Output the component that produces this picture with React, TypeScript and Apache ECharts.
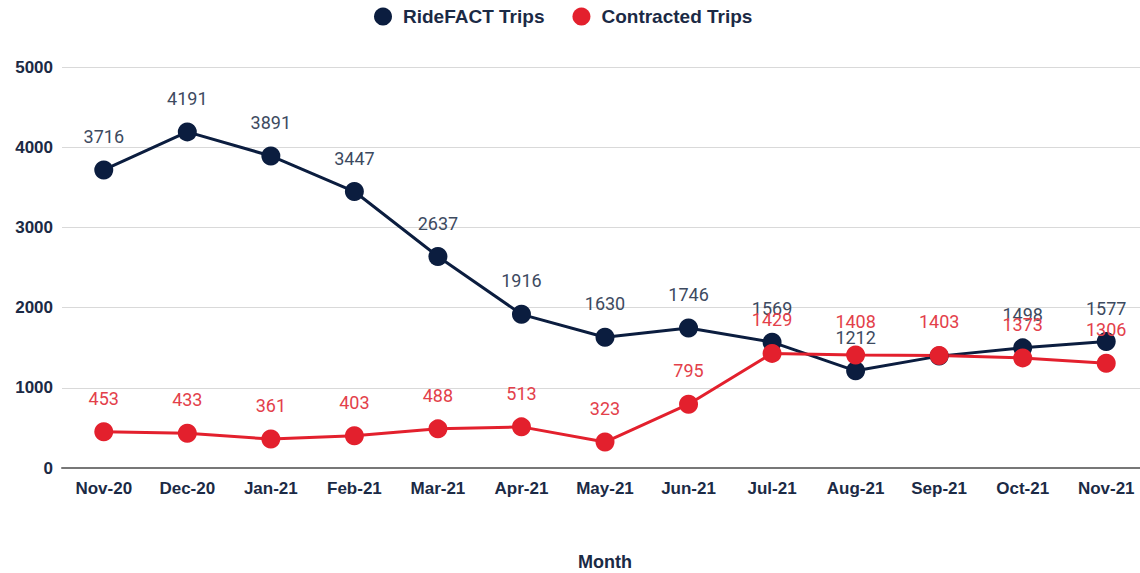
import React, { useEffect, useRef } from "react";
import * as echarts from "echarts";

const months = ["Nov-20", "Dec-20", "Jan-21", "Feb-21", "Mar-21", "Apr-21", "May-21", "Jun-21", "Jul-21", "Aug-21", "Sep-21", "Oct-21", "Nov-21"];
const rideFactTrips = [3716, 4191, 3891, 3447, 2637, 1916, 1630, 1746, 1569, 1212, 1395, 1498, 1577];
const contractedTrips = [453, 433, 361, 403, 488, 513, 323, 795, 1429, 1408, 1403, 1373, 1306];
const hiddenRideLabelIndex = 10;

const NAVY = "#0b1d3f";
const RED = "#e3202d";
const TEXT = "#1b2a45";

export default function App() {
  const ref = useRef<HTMLDivElement>(null);
  useEffect(() => {
    document.body.style.margin = "0";
    const chart = echarts.init(ref.current!, null, { renderer: "svg" });
    chart.setOption({
      animation: false,
      backgroundColor: "#ffffff",
      legend: {
        top: 2,
        left: 369,
        itemWidth: 18,
        itemHeight: 18,
        itemGap: 28,
        icon: "circle",
        textStyle: { fontFamily: "Liberation Sans", fontWeight: "bold", fontSize: 19, color: TEXT, padding: [0, 0, 0, 6] },
        data: ["RideFACT Trips", "Contracted Trips"],
      },
      grid: { left: 62, right: -8, top: 67, bottom: 105, containLabel: false, outerBoundsMode: "none" },
      xAxis: {
        type: "category",
        data: months,
        boundaryGap: true,
        name: "Month",
        nameLocation: "middle",
        nameGap: 85,
        nameTextStyle: { fontFamily: "Liberation Sans", fontWeight: "bold", fontSize: 18, color: TEXT },
        axisLine: { lineStyle: { color: "#777777", width: 2 } },
        axisTick: { show: false },
        axisLabel: { fontFamily: "Liberation Sans", fontWeight: "bold", fontSize: 17, color: TEXT, margin: 12 },
      },
      yAxis: {
        type: "value",
        min: 0,
        max: 5000,
        interval: 1000,
        axisLine: { show: false },
        axisTick: { show: false },
        splitLine: { lineStyle: { color: "#d9d9d9", width: 1 } },
        axisLabel: {
          fontFamily: "Liberation Sans",
          fontWeight: "bold",
          fontSize: 17,
          color: TEXT,
          margin: 9,
          formatter: (v: number) => String(v),
        },
      },
      series: [
        {
          name: "RideFACT Trips",
          type: "line",
          data: rideFactTrips.map((v, i) => (i === hiddenRideLabelIndex ? { value: v, label: { show: false } } : v)),
          color: NAVY,
          symbol: "circle",
          symbolSize: 19,
          lineStyle: { width: 3, color: NAVY },
          itemStyle: { color: NAVY },
          label: { show: true, position: "top", distance: 15, fontFamily: "Roboto", fontSize: 18, color: "#3d4a5f" },
        },
        {
          name: "Contracted Trips",
          type: "line",
          data: contractedTrips,
          color: RED,
          symbol: "circle",
          symbolSize: 19,
          lineStyle: { width: 3, color: RED },
          itemStyle: { color: RED },
          label: { show: true, position: "top", distance: 15, fontFamily: "Roboto", fontSize: 18, color: "#e3404a" },
        },
      ],
    });
    return () => chart.dispose();
  }, []);
  return <div ref={ref} style={{ width: 1140, height: 573 }} />;
}
